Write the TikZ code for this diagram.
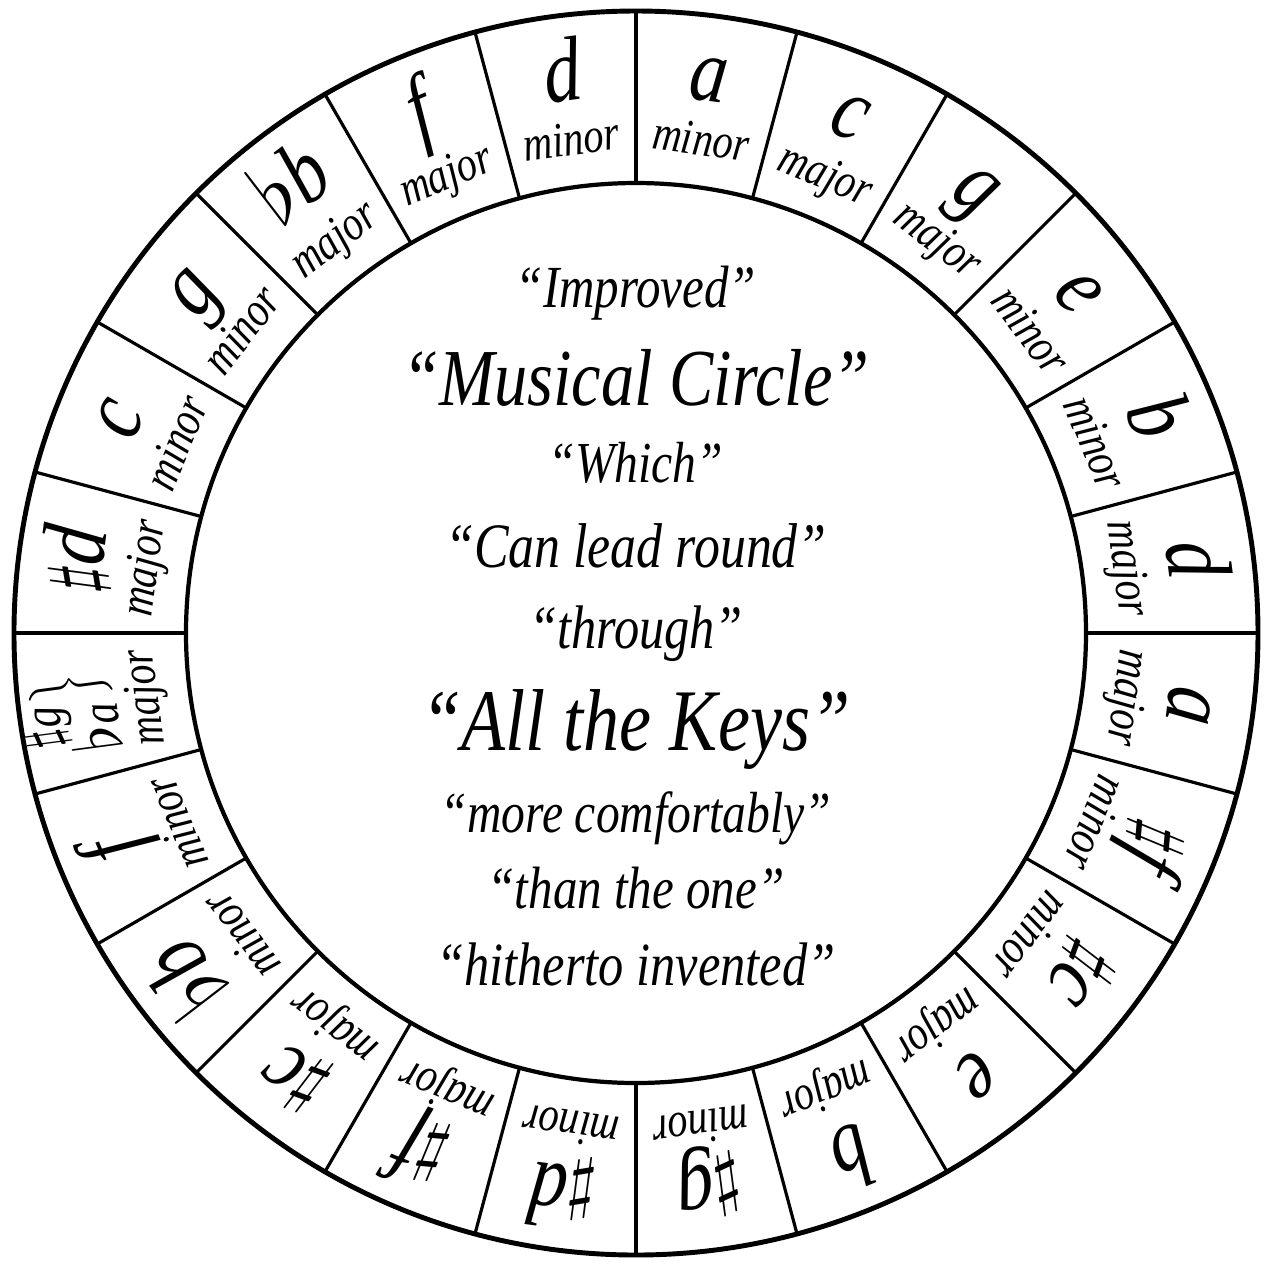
\documentclass[tikz,border=0pt]{standalone}
\usepackage{fontspec}
\usepackage{graphicx}
\newfontfamily\platefont{Liberation Serif}[FakeStretch=0.82]
\newcommand{\shp}[1][2.0]{\raisebox{0.04em}{\scalebox{#1}{\normalsize$\sharp$}}}
\newcommand{\flt}[1][2.5]{\scalebox{#1}{\normalsize$\flat$}}

\begin{document}
\begin{tikzpicture}[
    keyletter/.style={font=\platefont\itshape\fontsize{26}{28}\selectfont, inner sep=0pt, anchor=base},
    keymode/.style={font=\platefont\itshape\fontsize{14}{16}\selectfont, inner sep=0pt, anchor=base},
    keysmall/.style={font=\platefont\itshape\fontsize{15}{17}\selectfont, inner sep=0pt, rotate=97.5},
    motto/.style={font=\platefont\itshape, inner sep=0pt, anchor=base}]
    \useasboundingbox (-6.36,-6.30) rectangle (6.31,6.33);

    % ring
    \draw[line width=1.4pt] (0,0) circle (6.22);
    \draw[line width=1.2pt] (0,0) circle (4.5);
    \foreach \a in {0,15,...,345}
        \draw[line width=0.9pt] (90+\a:4.5) -- (90+\a:6.22);

    % keys, clockwise from the top
    \foreach \ang/\key/\mode [count=\i] in {82.5/a/minor, 67.5/c/major, 52.5/g/major,
            37.5/e/minor, 22.5/b/minor, 7.5/d/major, -7.5/a/major,
            -22.5/{\shp f}/minor, -37.5/{\shp c}/minor, -52.5/e/major, -67.5/b/major,
            -82.5/{\shp g}/minor, -97.5/{\shp d}/minor, -112.5/{\shp f}/major,
            -127.5/{\shp c}/major, -142.5/{\flt b}/minor, -157.5/f/minor,
            172.5/{\shp d}/major, 157.5/c/minor, 142.5/g/minor,
            127.5/{\flt b}/major, 112.5/f/major, 97.5/d/minor}{
        \node[keyletter, rotate=\ang-90] (key\i) at (\ang:5.37) {\key};
        \node[keymode, rotate=\ang-90] (mode\i) at (\ang:4.82) {\mode};
    }

    % the enharmonic one
    \node[keysmall] (keygabs) at (-5.88,-0.95) {\shp[1.5]g};
    \node[keysmall] (keygabf) at (-5.41,-0.95) {\flt[1.9]a};
    \node[keysmall] (keygabbrace) at (-5.66,-0.56) {$\left.\vcenter to 21pt{}\right\}$};
    \node[keymode, rotate=97.5] (modegab) at (187.5:4.82) {major};

    % motto
    \node[motto, font=\platefont\itshape\fontsize{17}{19}\selectfont] (improved) at (0,3.26) {“Improved”};
    \node[motto, font=\platefont\itshape\fontsize{23}{25}\selectfont] (musical) at (0,2.28) {“Musical Circle”};
    \node[motto, font=\platefont\itshape\fontsize{16.5}{18}\selectfont] (which) at (0,1.51) {“Which”};
    \node[motto, font=\platefont\itshape\fontsize{18}{20}\selectfont] (lead) at (0,0.66) {“Can lead round”};
    \node[motto, font=\platefont\itshape\fontsize{17.5}{19}\selectfont] (through) at (0,-0.15) {“through”};
    \node[motto, font=\platefont\itshape\fontsize{25}{27}\selectfont] (allkeys) at (0,-1.17) {“All the Keys”};
    \node[motto, font=\platefont\itshape\fontsize{16.5}{18}\selectfont] (comfort) at (0,-1.99) {“more comfortably”};
    \node[motto, font=\platefont\itshape\fontsize{17}{19}\selectfont] (thanone) at (0,-2.75) {“than the one”};
    \node[motto, font=\platefont\itshape\fontsize{17.5}{19}\selectfont] (hitherto) at (0,-3.52) {“hitherto invented”};
\end{tikzpicture}
\end{document}
